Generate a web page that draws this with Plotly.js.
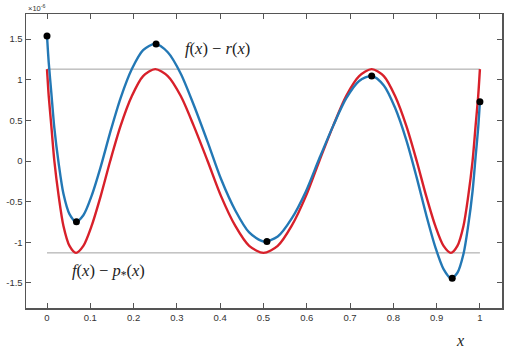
<!DOCTYPE html>
<html>
<head>
<meta charset="utf-8">
<script src="https://cdn.plot.ly/plotly-3.0.1.min.js"></script>
<style>html,body{margin:0;padding:0;background:#fff}#chart{width:510px;height:349px}</style>
</head>
<body>
<div id="chart"></div>
<script>
// sample positions
const sampleX = [0, 0.001, 0.004, 0.010, 0.017, 0.027, 0.038, 0.052, 0.067, 0.084, 0.103, 0.124, 0.146, 0.170, 0.196, 0.222,
  0.250, 0.279, 0.309, 0.339, 0.371, 0.402, 0.435, 0.467, 0.500, 0.533, 0.565, 0.598, 0.629, 0.661, 0.691, 0.721,
  0.750, 0.778, 0.804, 0.830, 0.854, 0.876, 0.897, 0.916, 0.933, 0.948, 0.962, 0.973, 0.983, 0.990, 0.996, 0.999, 1.0];
// f(x) - p*(x)  (red, equioscillating), units of 1e-6
const redY = [1.13, 1.044, 0.799, 0.432, 0, -0.432, -0.799, -1.044, -1.13, -1.044, -0.799, -0.432, 0, 0.432, 0.799, 1.044,
  1.13, 1.044, 0.799, 0.432, 0, -0.432, -0.799, -1.044, -1.13, -1.044, -0.799, -0.432, 0, 0.432, 0.799, 1.044,
  1.13, 1.044, 0.799, 0.432, 0, -0.432, -0.799, -1.044, -1.13, -1.044, -0.799, -0.432, 0, 0.432, 0.799, 1.044, 1.13];
// f(x) - r(x)  (blue)
const blueY = [1.54, 1.454, 1.209, 0.839, 0.403, -0.032, -0.404, -0.654, -0.746, -0.667, -0.429, -0.072, 0.352, 0.774, 1.131, 1.364,
  1.44, 1.337, 1.074, 0.689, 0.235, -0.222, -0.609, -0.879, -0.99, -0.929, -0.709, -0.374, 0.03, 0.432, 0.769, 0.984,
  1.045, 0.929, 0.654, 0.257, -0.205, -0.664, -1.059, -1.329, -1.44, -1.374, -1.144, -0.792, -0.372, 0.05, 0.409, 0.649, 0.73];
// extrema of f - r
const dotX = [0, 0.068, 0.252, 0.508, 0.75, 0.936, 1.0];
const dotY = [1.537, -0.748, 1.44, -0.99, 1.045, -1.443, 0.73];
// equioscillation level
const level = 1.13;
const levelX = [0, 1];

const xTicks = [0, 0.1, 0.2, 0.3, 0.4, 0.5, 0.6, 0.7, 0.8, 0.9, 1];
const xTickText = ['0', '0.1', '0.2', '0.3', '0.4', '0.5', '0.6', '0.7', '0.8', '0.9', '1'];
const yTicks = [-1.5, -1, -0.5, 0, 0.5, 1, 1.5];
const yTickText = ['-1.5', '-1', '-0.5', '0', '0.5', '1', '1.5'];

const traces = [
  {x: levelX, y: [level, level], mode: 'lines', line: {color: '#a0a0a0', width: 1}, hoverinfo: 'skip'},
  {x: levelX, y: [-level, -level], mode: 'lines', line: {color: '#a0a0a0', width: 1}, hoverinfo: 'skip'},
  {x: sampleX, y: redY, mode: 'lines', line: {color: '#d8202a', width: 2.4, shape: 'spline', smoothing: 0.8}},
  {x: sampleX, y: blueY, mode: 'lines', line: {color: '#2378b5', width: 2.4, shape: 'spline', smoothing: 0.8}},
  {x: dotX, y: dotY, mode: 'markers', marker: {color: '#000', size: 7}}
];

const serif = 'Liberation Serif, Times New Roman, serif';
const sans = 'Liberation Sans, Arial, sans-serif';
const layout = {
  width: 510, height: 349,
  margin: {l: 26, r: 8, t: 14, b: 41},
  paper_bgcolor: '#fff', plot_bgcolor: '#fff',
  showlegend: false,
  xaxis: {
    range: [-0.0485, 1.051], tickvals: xTicks, ticktext: xTickText,
    ticks: 'inside', ticklen: 5, tickcolor: '#555', tickwidth: 1,
    showline: true, linecolor: '#555', linewidth: 1.5, mirror: 'ticks',
    showgrid: false, zeroline: false,
    tickfont: {family: sans, size: 9.5, color: '#333'}
  },
  yaxis: {
    range: [-1.808, 1.808], tickvals: yTicks, ticktext: yTickText,
    ticks: 'inside', ticklen: 5, tickcolor: '#555', tickwidth: 1,
    showline: true, linecolor: '#555', linewidth: 1.5, mirror: 'ticks',
    showgrid: false, zeroline: false,
    tickfont: {family: sans, size: 9.5, color: '#333'}
  },
  annotations: [
    {xref: 'paper', yref: 'paper', x: 0.0, y: 1.0, xanchor: 'left', yanchor: 'bottom', yshift: -1,
     text: '×10<sup>-6</sup>', showarrow: false, font: {family: sans, size: 7.5, color: '#333'}},
    {xref: 'x', yref: 'y', x: 0.394, y: 1.38, xanchor: 'center', yanchor: 'middle',
     text: '<i>f</i>(<i>x</i>) − <i>r</i>(<i>x</i>)', showarrow: false, font: {family: serif, size: 16.5, color: '#222'}},
    {xref: 'x', yref: 'y', x: 0.143, y: -1.35, xanchor: 'center', yanchor: 'middle',
     text: '<i>f</i>(<i>x</i>) − <i>p</i><sub>*</sub>(<i>x</i>)', showarrow: false, font: {family: serif, size: 16.5, color: '#222'}},
    {xref: 'x', yref: 'paper', x: 0.955, y: 0, yshift: -32, xanchor: 'center', yanchor: 'middle',
     text: '<i>x</i>', showarrow: false, font: {family: serif, size: 16, color: '#222'}}
  ]
};

Plotly.newPlot('chart', traces, layout, {displayModeBar: false, staticPlot: true});
</script>
</body>
</html>
